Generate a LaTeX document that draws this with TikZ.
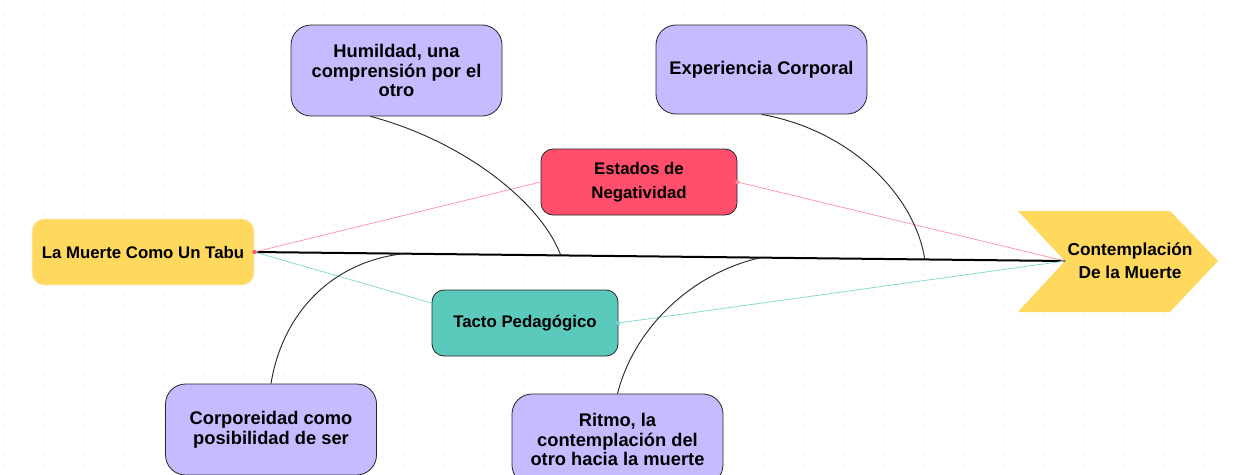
\documentclass[tikz,border=0pt]{standalone}
\usepackage{fontspec}
\setmainfont{Liberation Sans}
\usetikzlibrary{calc}
\definecolor{dotc}{HTML}{DADADA}
\definecolor{cyel}{HTML}{FFD95E}
\definecolor{cred}{HTML}{FF4F6C}
\definecolor{cteal}{HTML}{5CC9BD}
\definecolor{cpur}{HTML}{C7BBFF}
\definecolor{lpink}{HTML}{FF8FA3}
\definecolor{lteal}{HTML}{7FD8CF}
\begin{document}
\begin{tikzpicture}[x=1pt,y=-1pt,
  box/.style={rounded corners=12, draw=black!85, line width=0.8pt, align=center,
    font=\fontsize{16.8}{24}\selectfont\bfseries, inner sep=0pt},
  pbox/.style={box, fill=cpur, rounded corners=20, minimum width=211pt, minimum height=91pt,
    font=\fontsize{18.3}{19.8}\selectfont\bfseries},
  branch/.style={draw=black!85, line width=0.9pt},
  plink/.style={draw=lpink, line width=0.7pt},
  tlink/.style={draw=lteal, line width=0.7pt}]
\useasboundingbox (0,0) rectangle (1238,474);
\fill[white] (0,0) rectangle (1238,474);
\foreach \i in {0,...,123}{\foreach \j in {0,...,46}{\fill[dotc] (\i*10+4,\j*10+5) circle (0.7);}}

% nodes
\node[box, fill=cyel, draw=cyel!90!black!30, minimum width=222pt, minimum height=66pt] (tabu) at (143,252) {La Muerte Como Un Tabu};
\node[box, fill=cred, minimum width=196pt, minimum height=66pt] (est) at (639,182) {Estados de\\Negatividad};
\node[box, fill=cteal, minimum width=186pt, minimum height=66pt] (tac) at (525,323) {Tacto Pedagógico};
\node[pbox] (hum) at (396.5,70.5) {Humildad, una\\comprensión por el\\otro};
\node[pbox, minimum height=89pt] (exp) at (761.5,69.5) {Experiencia Corporal};
\node[pbox] (cor) at (271,429.5) {Corporeidad como\\posibilidad de ser};
\node[pbox] (rit) at (617.5,439.5) {Ritmo, la\\contemplación del\\otro hacia la muerte};

% chevron
\coordinate (notch) at (1065,261);
\fill[cyel] (1018,211) -- (1170,211) -- (1218,261) -- (1170,312) -- (1018,312) -- (notch) -- cycle;
\node[align=center, font=\fontsize{17.3}{23}\selectfont\bfseries] (con) at (1130,261) {Contemplación\\De la Muerte};

% spine
\coordinate (s0) at (tabu.east);
\draw[line width=2pt] (s0) -- (notch);

% thin links
\draw[plink] (s0) -- (est.west);
\draw[plink] (notch) -- (est.east);
\fill[lpink] (est.east) circle (2);
\draw[tlink] (s0) -- ($(tac.west)+(0,-20)$);
\draw[tlink] (notch) -- (tac.east);
\fill[lteal] (tac.east) circle (2);
\fill[cred] (s0) circle (2);

% branches
\draw[branch] ($(hum.south)+(-26,0)$) .. controls (460,140) and (540,200) .. ($(s0)!0.378!(notch)$);
\draw[branch] ($(exp.south)+(0,0)$) .. controls (850,130) and (915,195) .. ($(s0)!0.827!(notch)$);
\draw[branch] (cor.north) .. controls (282,315) and (330,262) .. ($(s0)!0.184!(notch)$);
\draw[branch] (rit.north) .. controls (635,325) and (695,272) .. ($(s0)!0.625!(notch)$);
\end{tikzpicture}
\end{document}
